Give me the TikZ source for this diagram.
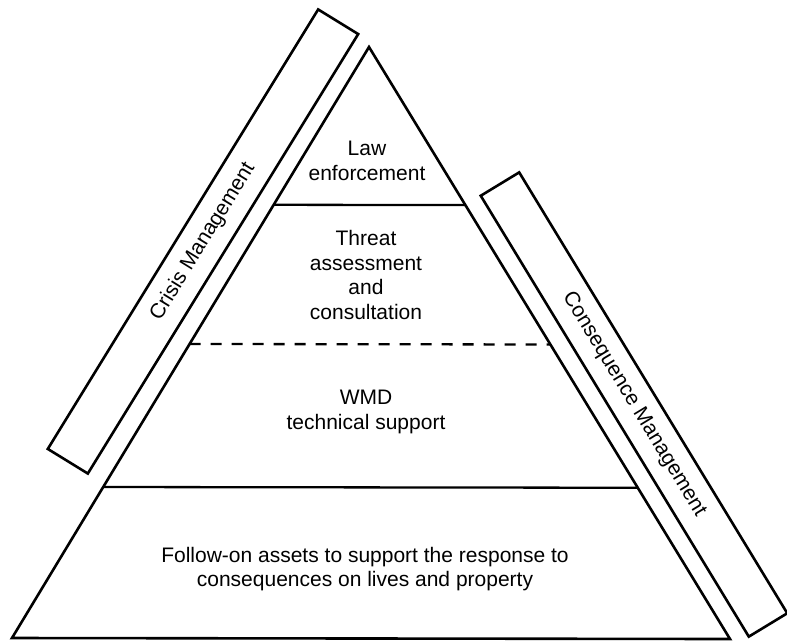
\documentclass[tikz,border=0pt]{standalone}
\usepackage{fontspec}
\setmainfont{Liberation Sans}
\usetikzlibrary{calc}
\begin{document}
\begin{tikzpicture}[x=1pt,y=-1pt,
  edge/.style={line width=2.6pt,line join=miter},
  sep/.style={line width=2.3pt},
  dsep/.style={line width=2.3pt,dash pattern=on 11pt off 10pt},
  lbl/.style={align=center,font=\fontsize{21}{24.5}\selectfont,inner sep=0pt},
  band/.style={draw,line width=2.6pt,minimum width=516pt,minimum height=47pt,inner sep=0pt,font=\fontsize{21}{24}\selectfont}]
\useasboundingbox (0,0) rectangle (787,641);
\coordinate (A) at (369,47);
\coordinate (B) at (12,638);
\coordinate (C) at (730,639);
\draw[edge] (A) -- (B) -- (C) -- cycle;
\coordinate (l1) at ($(A)!0.267!(B)$);
\coordinate (r1) at ($(A)!0.267!(C)$);
\coordinate (l2) at ($(A)!0.5025!(B)$);
\coordinate (r2) at ($(A)!0.5025!(C)$);
\coordinate (l3) at ($(A)!0.7445!(B)$);
\coordinate (r3) at ($(A)!0.7445!(C)$);
\draw[sep] (l1) -- (r1);
\draw[dsep] (l2) -- (r2);
\draw[sep] (l3) -- (r3);
\node[lbl] (law) at (367,161) {Law\\enforcement};
\node[lbl] (threat) at (366,275) {Threat\\assessment\\and\\consultation};
\node[lbl] (wmd) at (366,412) {WMD\\technical support};
\node[lbl] (follow) at (365,569) {Follow-on assets to support the response to\\consequences on lives and property};
\node[band,rotate=58.4] (crisis) at (203,241.5) {Crisis Management};
\node[band,rotate=-58.7,minimum height=45pt] (cons) at (634,404.5) {Consequence Management};
\end{tikzpicture}
\end{document}
